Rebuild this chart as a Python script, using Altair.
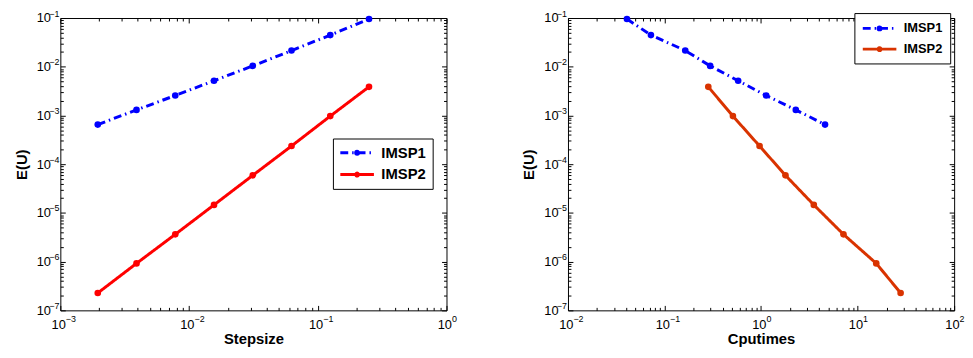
import math
import altair as alt
import pandas as pd

methods = ["IMSP1", "IMSP2"]
stepsize = [0.001953125, 0.00390625, 0.0078125, 0.015625, 0.03125, 0.0625, 0.125, 0.25]
err_imsp1 = [6.5e-4, 1.30e-3, 2.57e-3, 5.16e-3, 1.04e-2, 2.15e-2, 4.46e-2, 9.55e-2]
err_imsp2 = [2.27e-7, 9.2e-7, 3.63e-6, 1.46e-5, 5.9e-5, 2.36e-4, 9.7e-4, 3.87e-3]
cpu_imsp1 = [4.6, 2.29, 1.13, 0.579, 0.297, 0.164, 0.0723, 0.0408]
cpu_imsp2 = [27.9, 15.6, 7.14, 3.52, 1.79, 0.965, 0.511, 0.284]

x1_ticks = [1e-3, 1e-2, 1e-1, 1e0]
x1_exps = ["−3", "−2", "−1", "0"]
x2_ticks = [1e-2, 1e-1, 1e0, 1e1, 1e2]
x2_exps = ["−2", "−1", "0", "1", "2"]
y_ticks = [1e-7, 1e-6, 1e-5, 1e-4, 1e-3, 1e-2, 1e-1]
y_exps = ["−7", "−6", "−5", "−4", "−3", "−2", "−1"]

colors_left = ["#0000FF", "#FF0000"]
colors_right = ["#0000FF", "#D93300"]

FONT = "Liberation Sans"

df_left = pd.DataFrame({
    "x": stepsize + stepsize,
    "err": err_imsp1 + err_imsp2,
    "method": [methods[0]] * len(stepsize) + [methods[1]] * len(stepsize),
})
df_right = pd.DataFrame({
    "x": cpu_imsp1 + cpu_imsp2,
    "err": err_imsp1 + err_imsp2,
    "method": [methods[0]] * len(cpu_imsp1) + [methods[1]] * len(cpu_imsp2),
})


def minor(ticks):
    out = []
    for t in ticks[:-1]:
        out += [t * k for k in range(2, 10)]
    return out


def exp_expr(ticks, exps):
    lo = round(math.log10(ticks[0]))
    arr = "[" + ",".join("'" + s + "'" for s in exps) + "]"
    return f"{arr}[round(log(datum.value)/LN10) - ({lo})]"


# legend symbol: line with a dot in the middle (unit = 7px, spans 34px)
LEG_PATH = ("M-2.43,0L2.43,0M0.214,0A0.214,0.214,0,1,1,-0.214,0"
            "A0.214,0.214,0,1,1,0.214,0")

common = dict(grid=False, domain=False, tickColor="black", tickWidth=1,
              labelFont=FONT, labelColor="black")


def panel(df, xtitle, xticks, xexps, colors, lx, ly, lfs, lpad, lrow):
    xs = alt.Scale(type="log", domain=[xticks[0], xticks[-1]], nice=False)
    ys = alt.Scale(type="log", domain=[y_ticks[0], y_ticks[-1]], nice=False)

    # bottom / left: major ticks + "10"
    ax_b = alt.Axis(orient="bottom", values=xticks, labelExpr="'10'",
                    offset=-5, tickSize=5, labelPadding=8, labelAlign="right",
                    labelOffset=5, labelFontSize=13, title=xtitle,
                    titleFontSize=15, titleFontWeight="bold", titleFont=FONT,
                    titlePadding=1, titleColor="black", **common)
    ay_l = alt.Axis(orient="left", values=y_ticks, labelExpr="'10'",
                    offset=-5, tickSize=5, labelPadding=10, labelFontSize=13,
                    title="E(U)", titleFontSize=15, titleFontWeight="bold",
                    titleFont=FONT, titlePadding=7, titleColor="black", **common)
    # exponents
    ax_be = alt.Axis(orient="bottom", values=xticks, labelExpr=exp_expr(xticks, xexps),
                     ticks=False, labelPadding=4, labelAlign="left", labelOffset=5,
                     labelFontSize=9, title=None, **common)
    ay_le = alt.Axis(orient="left", values=y_ticks, labelExpr=exp_expr(y_ticks, y_exps),
                     ticks=False, labelPadding=1.5, labelOffset=-5, labelFontSize=9,
                     title=None, **common)
    # minor ticks
    ax_bm = alt.Axis(orient="bottom", values=minor(xticks), offset=-3, tickSize=3,
                     labels=False, title=None, **common)
    ay_lm = alt.Axis(orient="left", values=minor(y_ticks), offset=-3, tickSize=3,
                     labels=False, title=None, **common)
    # top / right mirrored ticks
    ax_t = alt.Axis(orient="top", values=xticks, offset=-5, tickSize=5,
                    labels=False, title=None, **common)
    ay_r = alt.Axis(orient="right", values=y_ticks, offset=-5, tickSize=5,
                    labels=False, title=None, **common)
    ax_tm = alt.Axis(orient="top", values=minor(xticks), offset=-3, tickSize=3,
                     labels=False, title=None, **common)
    ay_rm = alt.Axis(orient="right", values=minor(y_ticks), offset=-3, tickSize=3,
                     labels=False, title=None, **common)

    leg = alt.Legend(title=None, orient="none", legendX=lx, legendY=ly,
                     symbolType=LEG_PATH, symbolSize=196, symbolStrokeWidth=3,
                     symbolOffset=10,
                     labelFont=FONT, labelFontSize=lfs, labelFontWeight="bold",
                     labelColor="black", strokeColor="black", fillColor="white",
                     padding=lpad, rowPadding=lrow, labelOffset=16, cornerRadius=0)
    cscale = alt.Scale(domain=methods, range=colors)
    dscale = alt.Scale(domain=methods, range=[[8, 4, 1.5, 4], [1, 0]])

    base = alt.Chart(df)
    lines = base.mark_line(strokeWidth=3).encode(
        x=alt.X("x:Q", scale=xs, axis=ax_b),
        y=alt.Y("err:Q", scale=ys, axis=ay_l),
        color=alt.Color("method:N", scale=cscale, legend=leg),
        strokeDash=alt.StrokeDash("method:N", scale=dscale, legend=leg),
    )
    pts = base.mark_point(filled=True, size=45, opacity=1).encode(
        x=alt.X("x:Q", scale=xs, axis=ax_be),
        y=alt.Y("err:Q", scale=ys, axis=ay_le),
        color=alt.Color("method:N", scale=cscale, legend=None),
    )
    g1 = base.mark_point(opacity=0).encode(
        x=alt.X("x:Q", scale=xs, axis=ax_bm),
        y=alt.Y("err:Q", scale=ys, axis=ay_lm),
    )
    g2 = base.mark_point(opacity=0).encode(
        x=alt.X("x:Q", scale=xs, axis=ax_t),
        y=alt.Y("err:Q", scale=ys, axis=ay_r),
    )
    g3 = base.mark_point(opacity=0).encode(
        x=alt.X("x:Q", scale=xs, axis=ax_tm),
        y=alt.Y("err:Q", scale=ys, axis=ay_rm),
    )
    return alt.layer(lines, pts, g1, g2, g3).resolve_axis(
        x="independent", y="independent").properties(width=391, height=296)


left = panel(df_left, "Stepsize", x1_ticks, x1_exps, colors_left, 276, 122, 15, 6, 5)
right = panel(df_right, "Cputimes", x2_ticks, x2_exps, colors_right, 290, -5, 13, 7, 5)

chart = alt.hconcat(left, right, spacing=123, bounds="flush").properties(
    padding={"left": 6, "top": -2, "right": 0, "bottom": 0}
).configure_view(stroke="black", strokeWidth=1).resolve_scale(
    color="independent", strokeDash="independent")

chart.save("out.html", embed_options={"renderer": "svg", "actions": False})
